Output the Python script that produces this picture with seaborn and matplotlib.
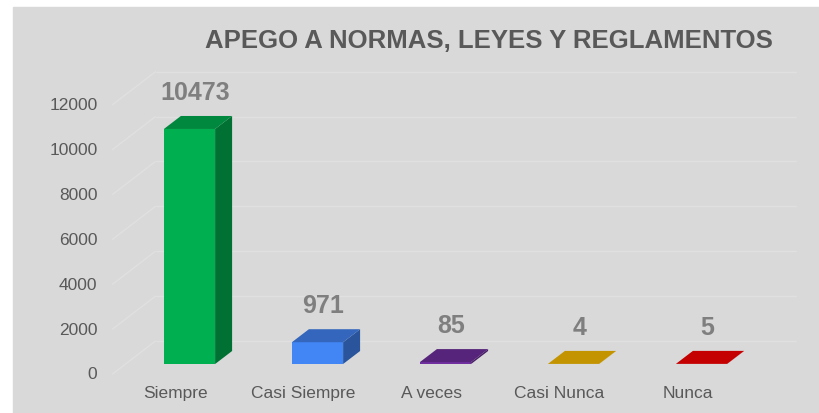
import matplotlib
matplotlib.use("Agg")
import matplotlib.pyplot as plt
import matplotlib.transforms as mtransforms
from matplotlib.patches import Polygon, Rectangle
from matplotlib.lines import Line2D
import seaborn as sns
import numpy as np

categories = ["Siempre", "Casi Siempre", "A veces", "Casi Nunca", "Nunca"]
values = [10473, 971, 85, 4, 5]
colors = ["#00B050", "#4285F4", "#7030A0", "#FFC000", "#FF0000"]
yticks = [0, 2000, 4000, 6000, 8000, 10000, 12000]
title = "APEGO A NORMAS, LEYES Y REGLAMENTOS"

sns.set_theme(style="white")
plt.rcParams["font.family"] = ["Liberation Sans", "DejaVu Sans"]

W, H, DPI = 819, 414, 100
fig = plt.figure(figsize=(W / DPI, H / DPI), dpi=DPI)
fig.patch.set_facecolor("white")
fig.add_artist(Rectangle((13 / W, 0), 1 - 13 / W, (H - 8) / H,
                         transform=fig.transFigure, color="#D9D9D9", zorder=-10))

ax = fig.add_axes([125.5 / W, 49 / H, 640 / W, 269.3 / H])
ax.set_facecolor("none")

sns.barplot(x=categories, y=values, hue=categories, palette=colors,
            width=0.4, saturation=1, legend=False, ax=ax, linewidth=0, zorder=2)
ax.set_xlim(-0.5, len(categories) - 0.5)
ax.set_ylim(yticks[0], yticks[-1])
for s in ax.spines.values():
    s.set_visible(False)
ax.set_xticks([])
ax.set_yticks([])
ax.set_xlabel("")
ax.set_ylabel("")

ident = mtransforms.IdentityTransform()
def off(dx, dy):
    return mtransforms.ScaledTranslation(dx / DPI, dy / DPI, fig.dpi_scale_trans)

# back / side wall gridlines (3D effect)
BACK = (30, 23)
FRONT = (-13, -10)
grid_c = "#E0E0E0"
for v in yticks:
    x0, y0 = ax.transData.transform((-0.5, v))
    x1, _ = ax.transData.transform((len(categories) - 0.5, v))
    ax.add_artist(Line2D([x0 + BACK[0], x1 + BACK[0]], [y0 + BACK[1], y0 + BACK[1]],
                         transform=ident, color=grid_c, lw=1, zorder=0.5, clip_on=False))
    ax.add_artist(Line2D([x0 + FRONT[0], x0 + BACK[0]], [y0 + FRONT[1], y0 + BACK[1]],
                         transform=ident, color=grid_c, lw=1, zorder=0.5, clip_on=False))

# 3D faces of bars
D = np.array([17.0, 13.0])
for p in list(ax.patches):
    x, w, h = p.get_x(), p.get_width(), p.get_height()
    fc = np.array(p.get_facecolor()[:3])
    bl = ax.transData.transform((x, 0))
    br = ax.transData.transform((x + w, 0))
    tl = ax.transData.transform((x, h))
    tr = ax.transData.transform((x + w, h))
    top = Polygon([tl, tr, tr + D, tl + D], closed=True, transform=ident,
                  facecolor=fc * 0.77, edgecolor="none", zorder=2, clip_on=False)
    side = Polygon([br, tr, tr + D, br + D], closed=True, transform=ident,
                   facecolor=fc * 0.64, edgecolor="none", zorder=2, clip_on=False)
    ax.add_artist(side)
    ax.add_artist(top)

# axis labels (front plane)
for v in yticks:
    ax.text(-0.5, v, f"{v}", transform=ax.transData + off(FRONT[0] - 15, FRONT[1]),
            ha="right", va="center", fontsize=12.5, color="#595959")
for i, c in enumerate(categories):
    ax.text(i, 0, c, transform=ax.transData + off(-14, FRONT[1] - 11),
            ha="center", va="top", fontsize=12.5, color="#595959")

# data labels
for i, v in enumerate(values):
    ax.text(i, v, f"{v}", transform=ax.transData + off(6, 37),
            ha="center", va="center", fontsize=18, fontweight="bold", color="#7F7F7F")

fig.text(489 / W, 1 - 41 / H, title, ha="center", va="center",
         fontsize=18.5, fontweight="bold", color="#595959")

fig.savefig("out.png", dpi=DPI, facecolor=fig.get_facecolor())
